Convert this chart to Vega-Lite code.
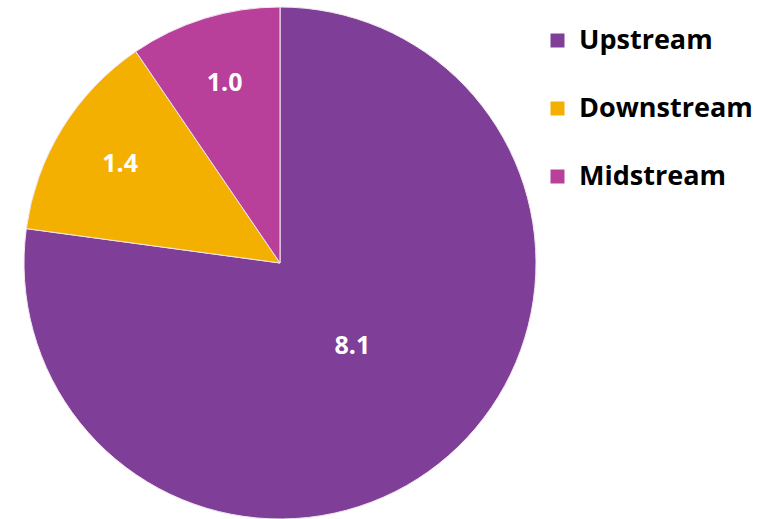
{
  "$schema": "https://vega.github.io/schema/vega-lite/v6.json",
  "width": 560,
  "height": 514,
  "padding": {"left": 0, "top": 5, "right": 0, "bottom": 0},
  "background": "white",
  "view": {"stroke": null},
  "data": {"values": [
    {"Segment": "Upstream", "Value": 8.1},
    {"Segment": "Downstream", "Value": 1.4},
    {"Segment": "Midstream", "Value": 1.0}
  ]},
  "encoding": {
    "theta": {"field": "Value", "type": "quantitative", "stack": true},
    "order": {"field": "Value", "type": "quantitative", "sort": "descending"}
  },
  "layer": [
    {
      "mark": {"type": "arc", "outerRadius": 256, "stroke": "#f3e6f0", "strokeWidth": 1},
      "encoding": {
        "color": {
          "field": "Segment", "type": "nominal",
          "sort": ["Upstream", "Downstream", "Midstream"],
          "scale": {"domain": ["Upstream", "Downstream", "Midstream"], "range": ["#7f3f98", "#f4b000", "#b8409b"]},
          "legend": {
            "title": null,
            "orient": "none",
            "legendX": 544,
            "legendY": 21,
            "symbolType": "square",
            "symbolSize": 196,
            "symbolStrokeWidth": 0,
            "labelFont": "Open Sans",
            "labelFontWeight": "bold",
            "labelFontSize": 27,
            "labelColor": "#000000",
            "labelOffset": 8,
            "rowPadding": 40,
            "labelLimit": 300
          }
        }
      }
    },
    {
      "mark": {"type": "text", "font": "Open Sans", "fontWeight": "bold", "fontSize": 25, "fill": "white", "baseline": "middle", "align": "center",
        "radius": {"expr": "datum.Value > 5 ? 110 : 188"}},
      "encoding": {
        "text": {"field": "Value", "type": "quantitative", "format": ".1f"}
      }
    }
  ]
}
